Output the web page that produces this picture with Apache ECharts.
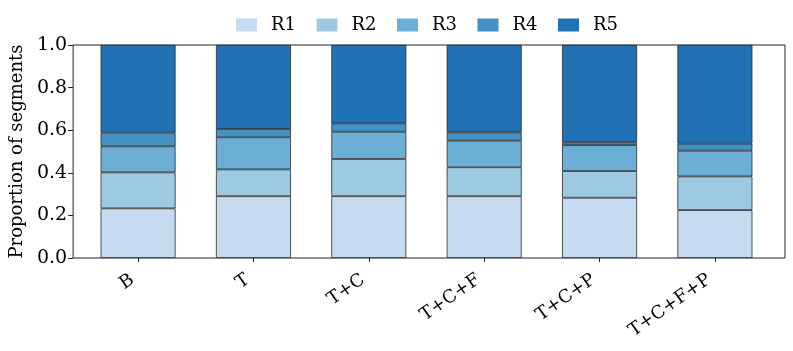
<!DOCTYPE html>
<html>
<head>
<meta charset="utf-8">
<script src="https://cdn.jsdelivr.net/npm/echarts@6/dist/echarts.min.js"></script>
<style>html,body{margin:0;padding:0;background:#fff}#c{width:793px;height:351px}</style>
</head>
<body>
<div id="c"></div>
<script>
const categories = ['B', 'T', 'T+C', 'T+C+F', 'T+C+P', 'T+C+F+P'];
const seriesNames = ['R1', 'R2', 'R3', 'R4', 'R5'];
const R1 = [0.233, 0.290, 0.290, 0.290, 0.283, 0.225];
const R2 = [0.169, 0.126, 0.175, 0.136, 0.125, 0.158];
const R3 = [0.122, 0.151, 0.128, 0.125, 0.122, 0.121];
const R4 = [0.064, 0.039, 0.039, 0.039, 0.013, 0.033];
const R5 = [0.412, 0.394, 0.368, 0.410, 0.457, 0.463];
const yTicks = [0, 0.2, 0.4, 0.6, 0.8, 1.0];

const values = [R1, R2, R3, R4, R5];
const colors = ['#c6dbef', '#9ecae1', '#6baed6', '#4292c6', '#2171b5'];
const font = 'DejaVu Serif';

// frame spans x from 68 to 785; categories occupy the inner band (matplotlib margins)
const frameL = 68, frameR = 8;
const frameW = 793 - frameL - frameR;
const span = categories.length + 0.215;
const unit = frameW / span;
const innerL = frameL + 0.1075 * unit;
const innerR = frameR + 0.1075 * unit;

const chart = echarts.init(document.getElementById('c'));
chart.setOption({
  animation: false,
  legend: {
    top: 11,
    left: 231,
    icon: 'rect',
    itemWidth: 21,
    itemHeight: 13,
    itemGap: 20.5,
    itemStyle: { borderWidth: 0 },
    textStyle: { fontFamily: font, fontSize: 18, color: '#000', padding: [0, 0, 0, 9] },
    data: seriesNames
  },
  grid: [
    { left: innerL, right: innerR, top: 45, bottom: 93 },
    { left: frameL, right: frameR, top: 45, bottom: 93, show: true, borderColor: '#222', borderWidth: 1 }
  ],
  xAxis: [
    {
      type: 'category', gridIndex: 0,
      data: categories,
      boundaryGap: true,
      axisLine: { show: false },
      axisTick: { show: true, alignWithLabel: true, length: 4, lineStyle: { color: '#222' } },
      axisLabel: {
        rotate: 35, margin: 16, padding: [0, 7, 0, 0],
        fontFamily: font, fontSize: 18, color: '#000', interval: 0
      }
    },
    {
      type: 'value', gridIndex: 1, min: 0, max: 1,
      show: false
    }
  ],
  yAxis: [
    {
      type: 'value', gridIndex: 0, min: 0, max: 1, interval: 0.2,
      show: false
    },
    {
      type: 'value', gridIndex: 1, min: 0, max: 1, interval: 0.2,
      name: 'Proportion of segments',
      nameLocation: 'middle',
      nameGap: 44,
      nameTextStyle: { fontFamily: font, fontSize: 18, color: '#000' },
      splitLine: { show: false },
      axisLine: { show: false, onZero: false },
      axisTick: { show: true, length: 5, lineStyle: { color: '#222' } },
      axisLabel: {
        fontFamily: font, fontSize: 19, color: '#000', margin: 6,
        customValues: yTicks,
        formatter: v => v.toFixed(1)
      }
    }
  ],
  series: seriesNames.map((name, k) => ({
    name: name,
    type: 'bar',
    stack: 'total',
    xAxisIndex: 0, yAxisIndex: 0,
    barWidth: '65%',
    itemStyle: { color: colors[k], borderColor: '#2a2a2a', borderWidth: 0.8 },
    data: values[k]
  }))
});
</script>
</body>
</html>
